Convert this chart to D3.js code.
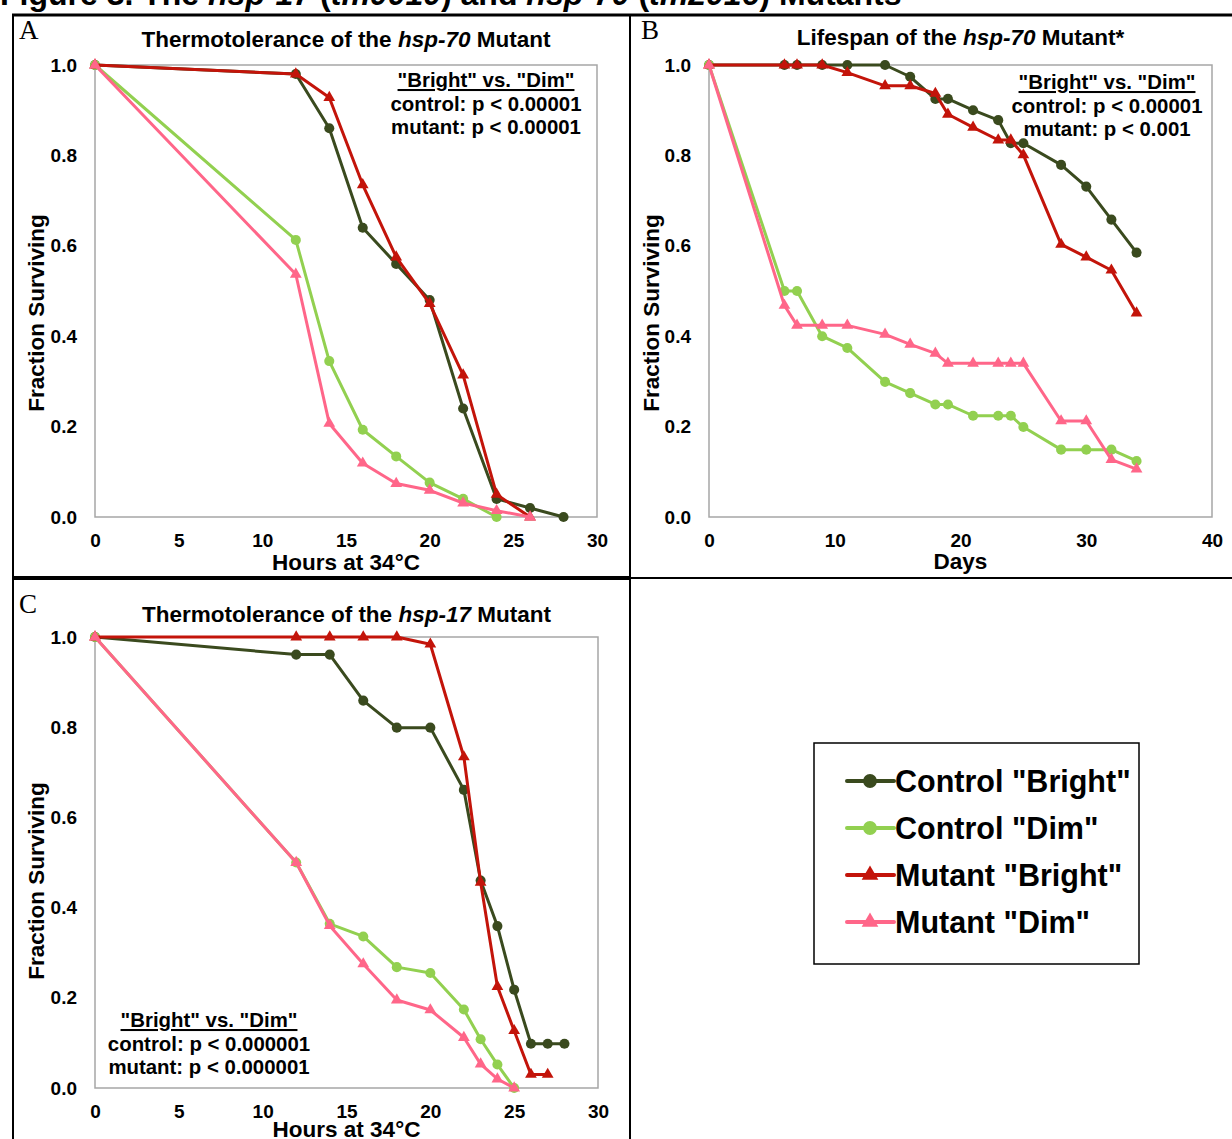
<!DOCTYPE html>
<html>
<head>
<meta charset="utf-8">
<script src="https://cdn.jsdelivr.net/npm/d3@7"></script>
<style>
    body { margin: 0; background: #fff; }
    svg { display: block; font-family: "Liberation Sans", Arial, sans-serif; }
    .tick text { font-size: 19px; font-weight: bold; fill: #000; }
    .title { font-size: 22.5px; font-weight: bold; }
    .label { font-size: 22.5px; font-weight: bold; }
    .note { font-size: 20.4px; font-weight: bold; }
    .letter { font-family: "Liberation Serif", "Times New Roman", serif; font-size: 27px; }
</style>
</head>
<body>
<svg id="fig"></svg>
<script>
// series names + colours
var seriesNames = ['Control "Bright"', 'Control "Dim"', 'Mutant "Bright"', 'Mutant "Dim"'];
var seriesColors = ["#3a4a1e", "#92d050", "#c3140a", "#ff6689"];
var seriesShapes = ["circle", "circle", "triangle", "triangle"];

// A: thermotolerance hsp-70 (hours at 34C)
var hoursA = [0, 12, 14, 16, 18, 20, 22, 24, 26, 28];
var ctrlBrightA = [1, 0.98, 0.86, 0.64, 0.56, 0.48, 0.24, 0.04, 0.02, 0];
var ctrlDimA = [1, 0.613, 0.345, 0.193, 0.134, 0.076, 0.04, 0, null, null];
var mutBrightA = [1, 0.98, 0.928, 0.735, 0.575, 0.472, 0.314, 0.05, 0, null];
var mutDimA = [1, 0.537, 0.207, 0.119, 0.074, 0.059, 0.031, 0.014, 0, null];

// B: lifespan hsp-70 (days)
var daysB = [0, 6, 7, 9, 11, 14, 16, 18, 19, 21, 23, 24, 25, 28, 30, 32, 34];
var ctrlBrightB = [1, 1, 1, 1, 1, 1, 0.974, 0.925, 0.925, 0.9, 0.878, 0.827, 0.827, 0.779, 0.731, 0.658, 0.585];
var ctrlDimB = [1, 0.5, 0.5, 0.4, 0.374, 0.299, 0.274, 0.249, 0.249, 0.224, 0.224, 0.224, 0.199, 0.149, 0.149, 0.149, 0.124];
var mutBrightB = [1, 1, 1, 1, 0.983, 0.954, 0.954, 0.937, 0.891, 0.862, 0.834, 0.834, 0.801, 0.603, 0.575, 0.546, 0.451];
var mutDimB = [1, 0.468, 0.424, 0.424, 0.424, 0.404, 0.382, 0.362, 0.34, 0.34, 0.34, 0.34, 0.34, 0.2125, 0.2125, 0.127, 0.106];

// C: thermotolerance hsp-17
var hoursC = [0, 12, 14, 16, 18, 20, 22, 23, 24, 25, 26, 27, 28];
var ctrlBrightC = [1, 0.961, 0.961, 0.859, 0.799, 0.799, 0.661, 0.46, 0.359, 0.218, 0.098, 0.098, 0.098];
var ctrlDimC = [1, 0.5, 0.364, 0.336, 0.268, 0.255, 0.174, 0.108, 0.052, 0, null, null, null];
var mutBrightC = [1, 1, 1, 1, 1, 0.984, 0.734, 0.456, 0.225, 0.127, 0.03, 0.03, null];
var mutDimC = [1, 0.5, 0.36, 0.275, 0.195, 0.173, 0.112, 0.053, 0.02, 0, null, null, null];

var yTicks = [0, 0.2, 0.4, 0.6, 0.8, 1.0];

var svg = d3.select("#fig").attr("width", 1232).attr("height", 1139);

// figure caption, cut off at top like the source page
var cap = svg.append("text").attr("x", 0).attr("y", 5)
    .attr("font-size", 32).attr("font-weight", "bold");
[["Figure 3. The ", false], ["hsp-17", true], [" (", false], ["tm0010", true], [") and ", false],
 ["hsp-70", true], [" (", false], ["tm2016", true], [") Mutants", false]].forEach(function(p) {
    cap.append("tspan").text(p[0]).attr("font-style", p[1] ? "italic" : "normal");
});

// frame lines
var frame = svg.append("g").attr("stroke", "#000").attr("fill", "none");
frame.append("line").attr("x1", 12).attr("x2", 1232).attr("y1", 15).attr("y2", 15).attr("stroke-width", 3);
frame.append("line").attr("x1", 13).attr("x2", 13).attr("y1", 14).attr("y2", 1139).attr("stroke-width", 2);
frame.append("line").attr("x1", 630).attr("x2", 630).attr("y1", 14).attr("y2", 1139).attr("stroke-width", 2);
frame.append("line").attr("x1", 12).attr("x2", 631).attr("y1", 578).attr("y2", 578).attr("stroke-width", 4);
frame.append("line").attr("x1", 630).attr("x2", 1232).attr("y1", 578).attr("y2", 578).attr("stroke-width", 2);

var drawPanel = function(cfg)
{
    var xScale = d3.scaleLinear().domain([0, cfg.xMax]).range([cfg.left, cfg.right]);
    var yScale = d3.scaleLinear().domain([0, 1]).range([cfg.bottom, cfg.top]);

    svg.append("text").classed("letter", true).attr("x", cfg.letterX).attr("y", cfg.letterY).text(cfg.letter);

    var title = svg.append("text").classed("title", true)
        .attr("text-anchor", "middle")
        .attr("x", (cfg.left + cfg.right) / 2)
        .attr("y", cfg.titleY);
    title.append("tspan").text(cfg.title[0]);
    title.append("tspan").attr("font-style", "italic").text(cfg.title[1]);
    title.append("tspan").text(cfg.title[2]);

    svg.append("rect")
        .attr("x", cfg.left).attr("y", cfg.top)
        .attr("width", cfg.right - cfg.left).attr("height", cfg.bottom - cfg.top)
        .attr("fill", "none").attr("stroke", "#a6a6a6").attr("stroke-width", 1.5);

    var yAxis = svg.append("g")
        .attr("transform", "translate(" + cfg.left + ",0)")
        .call(d3.axisLeft(yScale).tickValues(yTicks).tickFormat(d3.format(".1f")).tickSize(0).tickPadding(18));
    yAxis.select(".domain").remove();
    yAxis.selectAll("text").attr("font-family", null);

    var xAxis = svg.append("g")
        .attr("transform", "translate(0," + cfg.bottom + ")")
        .call(d3.axisBottom(xScale).tickValues(cfg.xTicks).tickFormat(d3.format("d")).tickSize(0).tickPadding(17));
    xAxis.select(".domain").remove();
    xAxis.selectAll("text").attr("font-family", null);

    svg.append("text").classed("label", true)
        .attr("text-anchor", "middle")
        .attr("x", (cfg.left + cfg.right) / 2)
        .attr("y", cfg.xLabelY)
        .text(cfg.xLabel);

    svg.append("g")
        .attr("transform", "translate(" + cfg.yLabelX + "," + cfg.yLabelY + ")")
        .append("text").classed("label", true)
        .attr("text-anchor", "middle")
        .attr("transform", "rotate(-90)")
        .text("Fraction Surviving");

    var line = d3.line()
        .defined(function(d) { return d.y != null; })
        .x(function(d) { return xScale(d.x); })
        .y(function(d) { return yScale(d.y); });

    cfg.series.forEach(function(vals, i) {
        var pts = vals.map(function(v, j) { return {x: cfg.xs[j], y: v}; });
        var g = svg.append("g");
        g.append("path").datum(pts)
            .attr("d", line)
            .attr("fill", "none")
            .attr("stroke", seriesColors[i])
            .attr("stroke-width", 3)
            .attr("stroke-linejoin", "round");
        var sym = d3.symbol()
            .type(seriesShapes[i] == "circle" ? d3.symbolCircle : d3.symbolTriangle)
            .size(seriesShapes[i] == "circle" ? 80 : 60);
        g.selectAll("path.mark")
            .data(pts.filter(function(d) { return d.y != null; }))
            .enter().append("path").classed("mark", true)
            .attr("d", sym)
            .attr("transform", function(d) { return "translate(" + xScale(d.x) + "," + yScale(d.y) + ")"; })
            .attr("fill", seriesColors[i]);
    });

    var note = svg.append("g").classed("note", true).attr("text-anchor", "middle");
    note.append("text").attr("x", cfg.noteX).attr("y", cfg.noteY)
        .attr("text-decoration", "underline").text('"Bright" vs. "Dim"');
    note.append("text").attr("x", cfg.noteX).attr("y", cfg.noteY + 24).text(cfg.notes[0]);
    note.append("text").attr("x", cfg.noteX).attr("y", cfg.noteY + 47).text(cfg.notes[1]);
}

drawPanel({
    letter: "A", letterX: 19, letterY: 39,
    title: ["Thermotolerance of the ", "hsp-70", " Mutant"], titleY: 47,
    left: 95, right: 597, top: 65, bottom: 517,
    xMax: 30, xTicks: [0, 5, 10, 15, 20, 25, 30], xs: hoursA,
    xLabel: "Hours at 34°C", xLabelY: 570, yLabelX: 44, yLabelY: 313,
    series: [ctrlBrightA, ctrlDimA, mutBrightA, mutDimA],
    noteX: 486, noteY: 87, notes: ["control: p < 0.00001", "mutant: p < 0.00001"]
});

drawPanel({
    letter: "B", letterX: 641, letterY: 39,
    title: ["Lifespan of the ", "hsp-70", " Mutant*"], titleY: 45,
    left: 709, right: 1212, top: 65, bottom: 517,
    xMax: 40, xTicks: [0, 10, 20, 30, 40], xs: daysB,
    xLabel: "Days", xLabelY: 569, yLabelX: 659, yLabelY: 313,
    series: [ctrlBrightB, ctrlDimB, mutBrightB, mutDimB],
    noteX: 1107, noteY: 89, notes: ["control: p < 0.00001", "mutant: p < 0.001"]
});

drawPanel({
    letter: "C", letterX: 19, letterY: 613,
    title: ["Thermotolerance of the ", "hsp-17", " Mutant"], titleY: 622,
    left: 95, right: 598, top: 637, bottom: 1088,
    xMax: 30, xTicks: [0, 5, 10, 15, 20, 25, 30], xs: hoursC,
    xLabel: "Hours at 34°C", xLabelY: 1137, yLabelX: 44, yLabelY: 881,
    series: [ctrlBrightC, ctrlDimC, mutBrightC, mutDimC],
    noteX: 209, noteY: 1027, notes: ["control: p < 0.000001", "mutant: p < 0.000001"]
});

// legend
var legend = svg.append("g").attr("transform", "translate(814,743)");
legend.append("rect").attr("width", 325).attr("height", 221)
    .attr("fill", "#fff").attr("stroke", "#000").attr("stroke-width", 1.5);
seriesNames.forEach(function(name, i) {
    var yy = 38 + i * 47;
    var row = legend.append("g").attr("transform", "translate(0," + yy + ")");
    row.append("line").attr("x1", 33).attr("x2", 80).attr("y1", 0).attr("y2", 0)
        .attr("stroke", seriesColors[i]).attr("stroke-width", 4).attr("stroke-linecap", "round");
    row.append("path")
        .attr("d", d3.symbol()
            .type(seriesShapes[i] == "circle" ? d3.symbolCircle : d3.symbolTriangle)
            .size(seriesShapes[i] == "circle" ? 150 : 120))
        .attr("transform", "translate(56,0)")
        .attr("fill", seriesColors[i]);
    row.append("text").attr("x", 81).attr("y", 11)
        .attr("font-size", 30.5).attr("font-weight", "bold")
        .text(name);
});
</script>
</body>
</html>
